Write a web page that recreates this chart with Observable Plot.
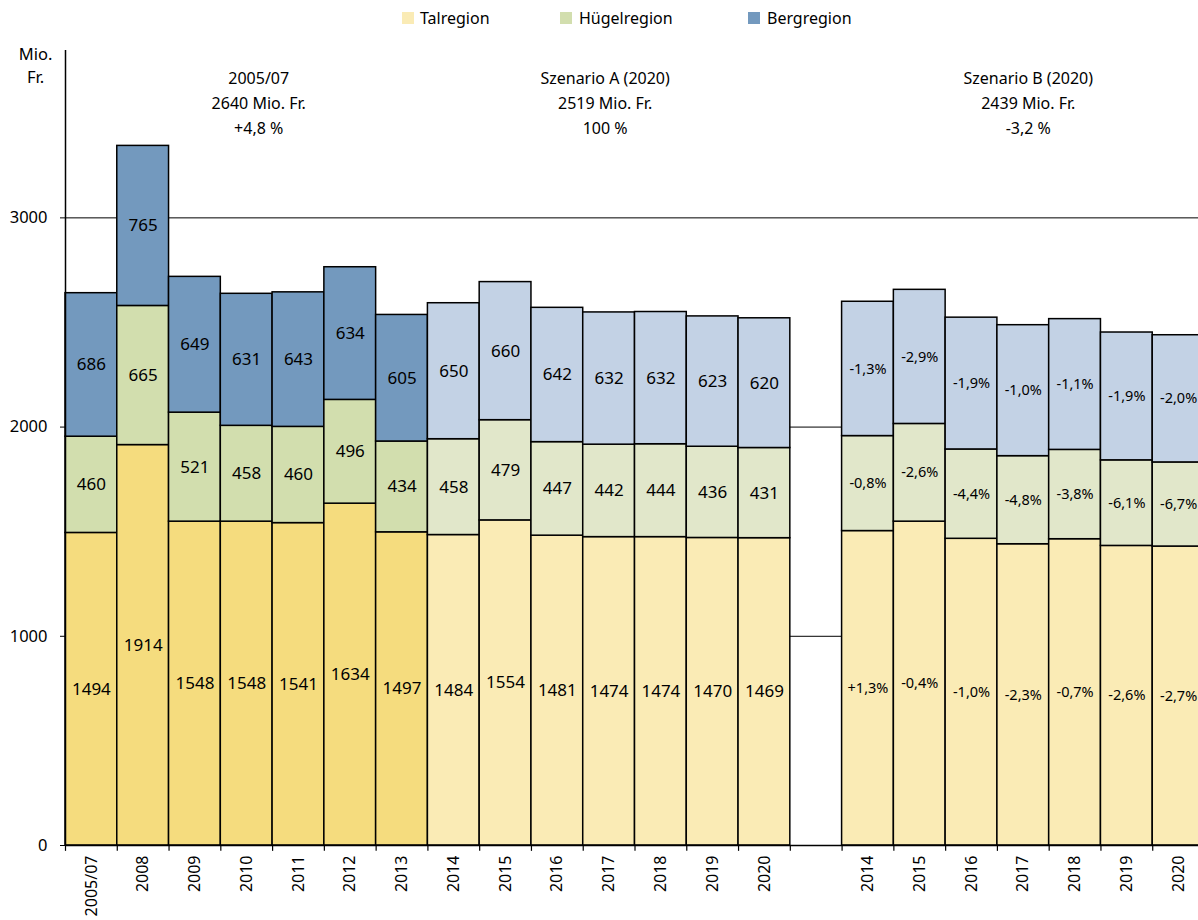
<!DOCTYPE html>
<html>
<head>
<meta charset="utf-8">
<script src="https://cdn.jsdelivr.net/npm/d3@7"></script>
<script src="https://cdn.jsdelivr.net/npm/@observablehq/plot@0.6"></script>
<style>
  html, body { margin: 0; padding: 0; background: white; }
  #wrap { position: relative; width: 1198px; height: 920px; font-family: "Noto Sans", sans-serif; color: #000; }
  #legend { position: absolute; left: 0; top: 0; width: 1198px; height: 36px; }
  .li { position: absolute; top: 6px; font-size: 16px; line-height: 24px; white-space: nowrap; }
  .sw { position: absolute; top: 12px; width: 12px; height: 12px; }
  #chart { position: absolute; left: 0; top: 36px; }
</style>
</head>
<body>
<div id="wrap">
  <div id="legend"></div>
  <div id="chart"></div>
</div>
<script>
// ---------- data ----------
const histYears = ["2005/07", "2008", "2009", "2010", "2011", "2012", "2013"];
const scenYears = ["2014", "2015", "2016", "2017", "2018", "2019", "2020"];

// historic + Szenario A (Mio. Fr.)
const talHA    = [1494, 1914, 1548, 1548, 1541, 1634, 1497, 1484, 1554, 1481, 1474, 1474, 1470, 1469];
const huegelHA = [460, 665, 521, 458, 460, 496, 434, 458, 479, 447, 442, 444, 436, 431];
const bergHA   = [686, 765, 649, 631, 643, 634, 605, 650, 660, 642, 632, 632, 623, 620];

const talB    = [1503, 1548, 1466, 1440, 1464, 1432, 1429];
const huegelB = [454, 467, 427, 421, 427, 409, 402];
const bergB   = [642, 641, 630, 626, 625, 611, 608];
const talBPct    = ["+1,3%", "-0,4%", "-1,0%", "-2,3%", "-0,7%", "-2,6%", "-2,7%"];
const huegelBPct = ["-0,8%", "-2,6%", "-4,4%", "-4,8%", "-3,8%", "-6,1%", "-6,7%"];
const bergBPct   = ["-1,3%", "-2,9%", "-1,9%", "-1,0%", "-1,1%", "-1,9%", "-2,0%"];

const regions = ["Talregion", "Hügelregion", "Bergregion"];
const colorsHist = ["#F5DC7E", "#D2DEAE", "#7399BE"];
const colorsProj = ["#FAEBB5", "#E1E7CA", "#C3D2E5"];
const legendColors = ["#FAEBB5", "#D2DEAE", "#7399BE"];

const yTicks = [0, 1000, 2000, 3000];
const gridLines = [1000, 2000, 3000];

const annotations = [
  {key: "2010", text: "2005/07\n2640 Mio. Fr.\n+4,8 %", dx: 12},
  {key: "2017", text: "Szenario A (2020)\n2519 Mio. Fr.\n100 %", dx: -4},
  {key: "B2017", text: "Szenario B (2020)\n2439 Mio. Fr.\n-3,2 %", dx: 5}
];

// ---------- table ----------
const gapKey = "gap";
const haYears = histYears.concat(scenYears);
const bKeys = scenYears.map(y => "B" + y);
const xKeys = haYears.concat([gapKey], bKeys);

const rows = [];
haYears.forEach((yr, i) => {
  const proj = i >= histYears.length;
  const vals = [talHA[i], huegelHA[i], bergHA[i]];
  vals.forEach((v, r) => rows.push({
    key: yr, region: regions[r], value: v, label: String(v),
    fill: proj ? colorsProj[r] : colorsHist[r], pct: false
  }));
});
bKeys.forEach((k, i) => {
  const vals = [talB[i], huegelB[i], bergB[i]];
  const labs = [talBPct[i], huegelBPct[i], bergBPct[i]];
  vals.forEach((v, r) => rows.push({
    key: k, region: regions[r], value: v, label: labs[r],
    fill: colorsProj[r], pct: true
  }));
});

// ---------- legend ----------
const legendPos = [{sw: 402, tx: 420}, {sw: 560, tx: 579}, {sw: 748, tx: 767}];
const legend = document.getElementById("legend");
regions.forEach((r, i) => {
  const s = document.createElement("div");
  s.className = "sw"; s.style.left = legendPos[i].sw + "px"; s.style.background = legendColors[i];
  const t = document.createElement("div");
  t.className = "li"; t.style.left = legendPos[i].tx + "px"; t.textContent = r;
  legend.appendChild(s); legend.appendChild(t);
});

// ---------- chart ----------
const x0 = 65, x1 = 1204;
const step = (x1 - x0) / xKeys.length;

const chart = Plot.plot({
  width: 1198,
  height: 884,
  marginTop: 14,
  marginBottom: 75,
  marginLeft: 65,
  marginRight: 0,
  style: {fontFamily: "Noto Sans, sans-serif", fontSize: "16px", color: "#000", background: "white", overflow: "hidden"},
  x: {domain: xKeys, range: [x0, x1], padding: 0, round: false, label: null},
  y: {domain: [0, 3800], label: null},
  color: {type: "identity"},
  marks: [
    Plot.ruleY(gridLines, {stroke: "#000", strokeWidth: 1}),
    Plot.barY(rows, Plot.stackY({
      x: "key", y: "value", z: "region", fill: "fill",
      stroke: "#000", strokeWidth: 1.5, inset: 0, order: null
    })),
    Plot.text(rows.filter(d => !d.pct), Plot.stackY({
      x: "key", y: "value", z: "region", text: "label",
      fontSize: 17, fill: "#000", order: null
    })),
    Plot.text(rows, Plot.stackY({
      x: "key", y: "value", z: "region", text: d => d.pct ? d.label : "",
      fontSize: 14.5, fill: "#000", order: null
    })),
    // axes
    Plot.ruleY([0], {stroke: "#000", strokeWidth: 1.5}),
    Plot.ruleX([xKeys[0]], {x: d => d, dx: -step / 2, y1: 0, y2: 3800, stroke: "#000", strokeWidth: 1.5}),
    Plot.ruleX(xKeys, {x: d => d, dx: -step / 2, y1: 0, y2: -28, stroke: "#000", strokeWidth: 1.2}),
    Plot.axisY({ticks: yTicks, tickSize: 5, tickPadding: 13, tickFormat: d => String(d), fontSize: 16.5, stroke: "#000"}),
    Plot.axisX({
      tickSize: 0, tickPadding: 10, tickRotate: -90, fontSize: 16,
      tickFormat: d => d === gapKey ? "" : (d.startsWith("B") ? d.slice(1) : d)
    }),
    // unit label
    Plot.text(["Mio.\nFr."], {frameAnchor: "top-left", dx: -30, dy: -8, textAnchor: "middle", lineAnchor: "top", lineHeight: 1.45, fontSize: 16.5, fill: "#000"}),
    // annotations
    ...annotations.map(a => Plot.text([a], {
      x: "key", y: () => 3560, text: "text", dx: a.dx,
      lineAnchor: "middle", lineHeight: 1.5625, fontSize: 16, fill: "#000"
    }))
  ]
});
document.getElementById("chart").appendChild(chart);
</script>
</body>
</html>
